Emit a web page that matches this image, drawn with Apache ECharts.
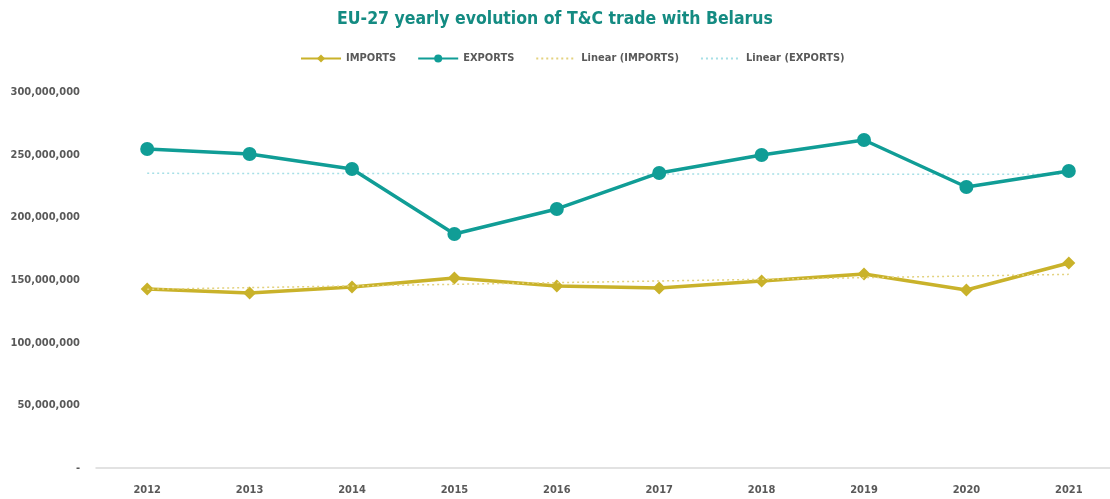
<!DOCTYPE html>
<html>
<head>
<meta charset="utf-8">
<script src="https://cdn.jsdelivr.net/npm/echarts@6/dist/echarts.min.js"></script>
<style>
  html, body { margin: 0; padding: 0; background: #fff; }
  #chart { width: 1110px; height: 499px; }
</style>
</head>
<body>
<div id="chart"></div>
<script>
// years on the x axis
var years = ['2012', '2013', '2014', '2015', '2016', '2017', '2018', '2019', '2020', '2021'];

// values (EUR)
var imports = [142800000, 139600000, 144400000, 151600000, 145200000, 143600000, 149200000, 154800000, 142000000, 163600000];
var exports = [254500000, 250500000, 238600000, 186700000, 206700000, 235400000, 249700000, 261700000, 224200000, 237000000];

// trend lines, only the two ends
var trendImports = [142600000, null, null, null, null, null, null, null, null, 154500000];
var trendExports = [235100000, null, null, null, null, null, null, null, null, 234300000];

var yTicks = [0, 50000000, 100000000, 150000000, 200000000, 250000000, 300000000];

var FONT = '"DejaVu Sans Condensed", "Liberation Sans Narrow", sans-serif';
var GOLD = '#c9b22a';
var TEAL = '#109d96';

function fmt(v) {
  if (v === 0) return '-';
  return String(v).replace(/\B(?=(\d{3})+(?!\d))/g, ',');
}

var chart = echarts.init(document.getElementById('chart'));

chart.setOption({
  animation: false,
  title: {
    text: 'EU-27 yearly evolution of T&C trade with Belarus',
    left: 'center',
    top: 5,
    textStyle: { fontFamily: FONT, fontSize: 17.5, fontWeight: 'bold', color: '#148b82' }
  },
  legend: {
    top: 48,
    left: 295,
    itemWidth: 40,
    itemHeight: 10,
    itemGap: 21,
    textStyle: { fontFamily: FONT, fontSize: 11, fontWeight: 'bold', color: '#595959' },
    data: [
      'IMPORTS',
      'EXPORTS',
      { name: 'Linear (IMPORTS)', itemStyle: { opacity: 0 } },
      { name: 'Linear (EXPORTS)', itemStyle: { opacity: 0 } }
    ]
  },
  grid: { left: 96, top: 92, bottom: 31, width: 1024, outerBoundsMode: 'none' },
  xAxis: {
    type: 'category',
    data: years,
    boundaryGap: true,
    axisLine: { lineStyle: { color: '#d9d9d9', width: 1.5 } },
    axisTick: { show: false },
    axisLabel: { fontFamily: FONT, fontSize: 11, fontWeight: 'bold', color: '#595959', margin: 17 }
  },
  yAxis: {
    type: 'value',
    min: 0,
    max: 300000000,
    interval: 50000000,
    splitLine: { show: false },
    axisLine: { show: false },
    axisTick: { show: false },
    axisLabel: {
      fontFamily: FONT, fontSize: 11, fontWeight: 'bold', color: '#595959', margin: 16,
      formatter: function (v) { return yTicks.indexOf(v) >= 0 ? fmt(v) : ''; }
    }
  },
  series: [
    {
      name: 'IMPORTS',
      type: 'line',
      data: imports,
      symbol: 'diamond',
      symbolSize: 13,
      itemStyle: { color: GOLD },
      lineStyle: { color: GOLD, width: 3.5 },
      z: 3
    },
    {
      name: 'EXPORTS',
      type: 'line',
      data: exports,
      symbol: 'circle',
      symbolSize: 14,
      itemStyle: { color: TEAL },
      lineStyle: { color: TEAL, width: 3.5 },
      z: 3
    },
    {
      name: 'Linear (IMPORTS)',
      type: 'line',
      data: trendImports,
      connectNulls: true,
      symbol: 'none',
      itemStyle: { color: '#e3d27e' },
      lineStyle: { color: '#e3d27e', width: 1.5, type: [2, 3] },
      z: 4
    },
    {
      name: 'Linear (EXPORTS)',
      type: 'line',
      data: trendExports,
      connectNulls: true,
      symbol: 'none',
      itemStyle: { color: '#a6dfe6' },
      lineStyle: { color: '#a6dfe6', width: 1.5, type: [2, 3] },
      z: 2
    }
  ]
});
</script>
</body>
</html>
